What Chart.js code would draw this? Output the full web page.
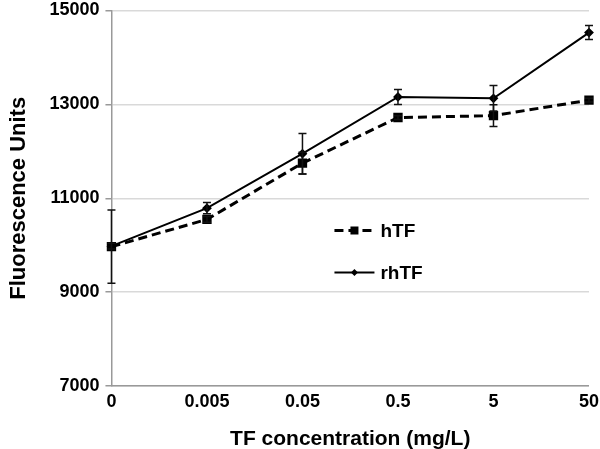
<!DOCTYPE html>
<html>
<head>
<meta charset="utf-8">
<script src="https://cdn.jsdelivr.net/npm/chart.js@4/dist/chart.umd.min.js"></script>
<style>
  html, body { margin: 0; padding: 0; background: #fff; }
  #wrap { width: 600px; height: 449px; }
</style>
</head>
<body>
<div id="wrap"><canvas id="tfChart"></canvas></div>
<script>
const concentrations = ['0', '0.005', '0.05', '0.5', '5', '50'];
const hTF = [9970, 10550, 11750, 12720, 12760, 13090];
const hTFErr = [780, 60, 230, 40, 230, 40];
const rhTF = [9980, 10790, 11950, 13160, 13130, 14530];
const rhTFErr = [60, 120, 430, 160, 270, 150];
const yTicks = [7000, 9000, 11000, 13000, 15000];

const font = 'Liberation Sans, Arial, sans-serif';

// error bars drawn through the chart's own scales
const errorBars = {
    id: 'errorBars',
    afterDatasetsDraw(chart) {
        const ctx = chart.ctx;
        const x = chart.scales.x, y = chart.scales.y;
        ctx.save();
        ctx.strokeStyle = '#111';
        ctx.lineWidth = 1.5;
        chart.data.datasets.forEach(ds => {
            ds.data.forEach((v, i) => {
                const e = ds.errors[i];
                const px = x.getPixelForValue(i);
                const top = y.getPixelForValue(v + e);
                const bot = y.getPixelForValue(v - e);
                ctx.beginPath();
                ctx.moveTo(px, top); ctx.lineTo(px, bot);
                ctx.moveTo(px - 4, top); ctx.lineTo(px + 4, top);
                ctx.moveTo(px - 4, bot); ctx.lineTo(px + 4, bot);
                ctx.stroke();
            });
        });
        ctx.restore();
    }
};

// legend sits inside the plot area, like the original
const insideLegend = {
    id: 'insideLegend',
    afterDraw(chart) {
        const ctx = chart.ctx;
        const a = chart.chartArea;
        const x0 = a.left + 223, x1 = x0 + 40;
        const rows = [a.top + 220, a.top + 262];
        ctx.save();
        chart.data.datasets.forEach((ds, k) => {
            const yy = rows[k];
            ctx.strokeStyle = '#000';
            ctx.lineWidth = ds.borderWidth;
            ctx.setLineDash(ds.borderDash || []);
            ctx.beginPath(); ctx.moveTo(x0, yy); ctx.lineTo(x1, yy); ctx.stroke();
            ctx.setLineDash([]);
            ctx.fillStyle = '#000';
            const cx = (x0 + x1) / 2;
            if (ds.pointStyle === 'rect') {
                ctx.fillRect(cx - 4, yy - 4, 8, 8);
            } else {
                ctx.beginPath();
                ctx.moveTo(cx, yy - 3.5); ctx.lineTo(cx + 3.5, yy);
                ctx.lineTo(cx, yy + 3.5); ctx.lineTo(cx - 3.5, yy);
                ctx.closePath(); ctx.fill();
            }
            ctx.font = 'bold 19px ' + font;
            ctx.textBaseline = 'middle';
            ctx.fillText(ds.label, x1 + 6, yy + 1);
        });
        ctx.restore();
    }
};

new Chart(document.getElementById('tfChart').getContext('2d'), {
    type: 'line',
    data: {
        labels: concentrations,
        datasets: [{
            label: 'hTF',
            data: hTF,
            errors: hTFErr,
            borderColor: '#000',
            backgroundColor: '#000',
            borderWidth: 3,
            borderDash: [9, 5],
            pointStyle: 'rect',
            pointRadius: 4.5,
            tension: 0
        }, {
            label: 'rhTF',
            data: rhTF,
            errors: rhTFErr,
            borderColor: '#000',
            backgroundColor: '#000',
            borderWidth: 2,
            pointStyle: 'rectRot',
            pointRadius: 3.5,
            tension: 0
        }]
    },
    options: {
        responsive: true,
        maintainAspectRatio: false,
        animation: false,
        layout: { padding: { top: 0, right: 10, left: 2, bottom: 0 } },
        plugins: { legend: { display: false }, tooltip: { enabled: false } },
        scales: {
            x: {
                offset: false,
                grid: { display: false, drawTicks: true, tickLength: 6, color: '#999' },
                border: { color: '#999', width: 1.5 },
                ticks: { color: '#000', font: { family: font, size: 18, weight: 'bold', lineHeight: 1 },
                    maxRotation: 0, padding: 1 },
                title: { display: true, text: 'TF concentration (mg/L)', color: '#000',
                    font: { family: font, size: 21, weight: 'bold', lineHeight: 0.9 }, padding: { top: 18, bottom: 0 } }
            },
            y: {
                min: 7000,
                max: 15000,
                afterBuildTicks: s => { s.ticks = yTicks.map(v => ({ value: v })); },
                grid: { color: '#d9d9d9', lineWidth: 1.5, tickLength: 6, tickColor: '#999' },
                border: { color: '#999', width: 1.5 },
                ticks: { color: '#000', font: { family: font, size: 18, weight: 'bold', lineHeight: 0.5 }, padding: 6,
                    callback: v => String(v) },
                title: { display: true, text: 'Fluorescence Units', color: '#000',
                    font: { family: font, size: 22, weight: 'bold' }, padding: { bottom: 11 } }
            }
        }
    },
    plugins: [errorBars, insideLegend]
});
</script>
</body>
</html>
